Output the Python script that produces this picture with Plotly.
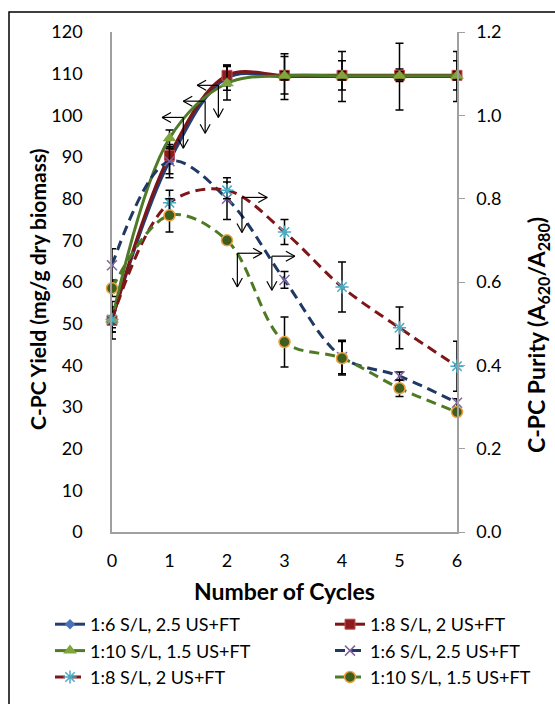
import plotly.graph_objects as go

# ---------------- data ----------------
cycles = [0, 1, 2, 3, 4, 5, 6]

# C-PC yield (mg/g dry biomass) - solid lines, left axis
yield_16 = [51.0, 89.0, 109.0, 109.3, 109.3, 109.3, 109.3]
yield_18 = [50.8, 90.4, 109.6, 109.6, 109.6, 109.6, 109.6]
yield_110 = [51.0, 94.5, 107.7, 109.5, 109.5, 109.5, 109.5]
yield_16_err = [3.0, 4.0, 3.0, 5.5, 6.0, 8.0, 6.0]
yield_18_err = [4.5, 2.0, 2.5, 4.5, 3.5, 1.5, 3.5]
yield_110_err = [3.0, 2.0, 4.0, 1.0, 1.0, 1.0, 1.0]

# C-PC purity (A620/A280) - dashed lines, right axis
purity_16 = [0.64, 0.89, 0.80, 0.605, 0.42, 0.374, 0.31]
purity_18 = [0.51, 0.79, 0.82, 0.72, 0.588, 0.49, 0.398]
purity_110 = [0.585, 0.76, 0.70, 0.456, 0.417, 0.345, 0.288]
purity_16_err = [0.04, 0.03, 0.05, 0.02, 0.04, 0.01, 0.01]
purity_18_err = [0.02, 0.03, 0.02, 0.03, 0.06, 0.05, 0.06]
purity_110_err = [0.02, 0.04, 0.0, 0.06, 0.04, 0.02, 0.01]

names = ["1:6 S/L, 2.5 US+FT", "1:8 S/L, 2 US+FT", "1:10 S/L, 1.5 US+FT"]

y_ticks = [0, 10, 20, 30, 40, 50, 60, 70, 80, 90, 100, 110, 120]
y2_ticks = [0.0, 0.2, 0.4, 0.6, 0.8, 1.0, 1.2]

# annotation arrows: (corner_x, corner_y, end_x, end_y) in yield-axis units
arrows_left = [(1.24, 99.5, 0.87, 92.1), (1.62, 103.4, 1.24, 95.7), (1.85, 107.2, 1.48, 99.5)]
arrows_right = [(2.26, 80.3, 2.70, 71.9), (2.18, 66.9, 2.61, 58.8), (2.78, 66.2, 3.18, 58.0)]

FONT = "Lato"
W, H = 555, 704
ML, MR, MT, MB = 112, 98, 32, 172
PW, PH = W - ML - MR, H - MT - MB
px_x = PW / 6.0
px_y = PH / 120.0

fig = go.Figure()

def err(vals):
    return dict(type="data", array=vals, visible=True, color="black", thickness=1.5, width=4)

# legend placement: column 1 -> legend, column 2 -> legend2
solid = [
    (yield_16, yield_16_err, "#233E74", dict(symbol="diamond", size=8, color="#4A72B8", line=dict(width=0)), "legend"),
    (yield_18, yield_18_err, "#7E1518", dict(symbol="square", size=10, color="#8E1B1D", line=dict(width=1, color="#C0504D")), "legend2"),
    (yield_110, yield_110_err, "#4F7A28", dict(symbol="triangle-up", size=12, color="#7EA63C", line=dict(width=0)), "legend"),
]
for i, ((vals, e, col, mk, lg), nm) in enumerate(zip(solid, names)):
    fig.add_trace(go.Scatter(x=cycles, y=vals, name=nm, mode="lines+markers",
                             line=dict(color=col, width=3, shape="spline"),
                             marker=mk, error_y=err(e), cliponaxis=False, yaxis="y",
                             legend=lg, legendgroup="s%d" % i))

dashed = [
    (purity_16, purity_16_err, "#1F3864", dict(symbol="x-thin-open", size=10, color="#8064A2", line=dict(width=1.5, color="#8064A2")), "legend2"),
    (purity_18, purity_18_err, "#7E1518", dict(symbol="asterisk-open", size=11, color="#4BACC6", line=dict(width=1.5, color="#4BACC6")), "legend"),
    (purity_110, purity_110_err, "#4E7A24", dict(symbol="circle", size=11, color="#3D5E1C", line=dict(width=1.5, color="#F0A040")), "legend2"),
]
for i, ((vals, e, col, mk, lg), nm) in enumerate(zip(dashed, names)):
    fig.add_trace(go.Scatter(x=cycles, y=vals, name=nm, mode="lines+markers",
                             line=dict(color=col, width=3, shape="spline", dash="10px,6px"),
                             marker=mk, error_y=err(e), cliponaxis=False, yaxis="y2",
                             legend=lg, legendgroup="d%d" % i))

# arrows (L-shaped with open V heads)
hl, hw = 9, 5
shapes = []
def seg(x0, y0, x1, y1):
    shapes.append(dict(type="line", xref="x", yref="y", x0=x0, y0=y0, x1=x1, y1=y1,
                       line=dict(color="black", width=1.2)))
for cx, cy, ex, ey in arrows_left + arrows_right:
    seg(cx, cy, ex, cy)
    seg(cx, cy, cx, ey)
    s = 1 if ex < cx else -1
    seg(ex, cy, ex + s * hl / px_x, cy + hw / px_y)
    seg(ex, cy, ex + s * hl / px_x, cy - hw / px_y)
    seg(cx, ey, cx - hw / px_x, ey + hl / px_y)
    seg(cx, ey, cx + hw / px_x, ey + hl / px_y)

# outer frame (left and top edges visible)
shapes.append(dict(type="rect", xref="paper", yref="paper",
                   x0=(9 - ML) / PW, x1=(560 - ML) / PW,
                   y0=-(MB + 10) / PH, y1=(H - MB - 12) / PH,
                   line=dict(color="black", width=1.5), fillcolor="rgba(0,0,0,0)"))

leg_common = dict(orientation="v", xref="container", yref="container",
                  xanchor="left", yanchor="top", font=dict(size=18), tracegroupgap=11,
                  traceorder="normal", bgcolor="rgba(0,0,0,0)", y=(H - 606) / H)

fig.update_layout(
    width=W, height=H, margin=dict(l=ML, r=MR, t=MT, b=MB, autoexpand=False),
    paper_bgcolor="white", plot_bgcolor="white",
    font=dict(family=FONT, size=16, color="black"),
    shapes=shapes,
    xaxis=dict(range=[0, 6], tickvals=cycles, showgrid=False, zeroline=False,
               showline=True, linecolor="#A0A0A0", linewidth=1.5, ticks="",
               ticklabelstandoff=12, tickfont=dict(size=18),
               title=dict(text="<b>Number of Cycles</b>", font=dict(size=23), standoff=14)),
    yaxis=dict(range=[0, 120], tickvals=y_ticks, showgrid=False, zeroline=False,
               showline=True, linecolor="#A0A0A0", linewidth=1.5, ticks="",
               ticklabelstandoff=24, tickfont=dict(size=18)),
    yaxis2=dict(range=[0, 1.2], tickvals=y2_ticks, tickformat=".1f", overlaying="y", side="right",
                showgrid=False, zeroline=False, showline=True, linecolor="#A0A0A0", linewidth=1.5,
                ticks="outside", ticklen=6, tickcolor="#A0A0A0", ticklabelstandoff=8,
                tickfont=dict(size=18)),
    legend=dict(x=50 / W, **leg_common),
    legend2=dict(x=330 / W, **leg_common),
    annotations=[
        dict(text="<b>C-PC Yield (mg/g dry biomass)</b>", xref="paper", yref="paper",
             x=(37 - ML) / PW, y=(H - MB - 290) / PH,
             textangle=-90, showarrow=False, font=dict(size=21), xanchor="center", yanchor="middle"),
        dict(text="<b>C-PC Purity (A<sub>620</sub>/A<sub>280</sub>)</b>", xref="paper", yref="paper",
             x=(537 - ML) / PW, y=(H - MB - 335) / PH,
             textangle=-90, showarrow=False, font=dict(size=23), xanchor="center", yanchor="middle"),
    ],
)

fig.write_html("out.html")
